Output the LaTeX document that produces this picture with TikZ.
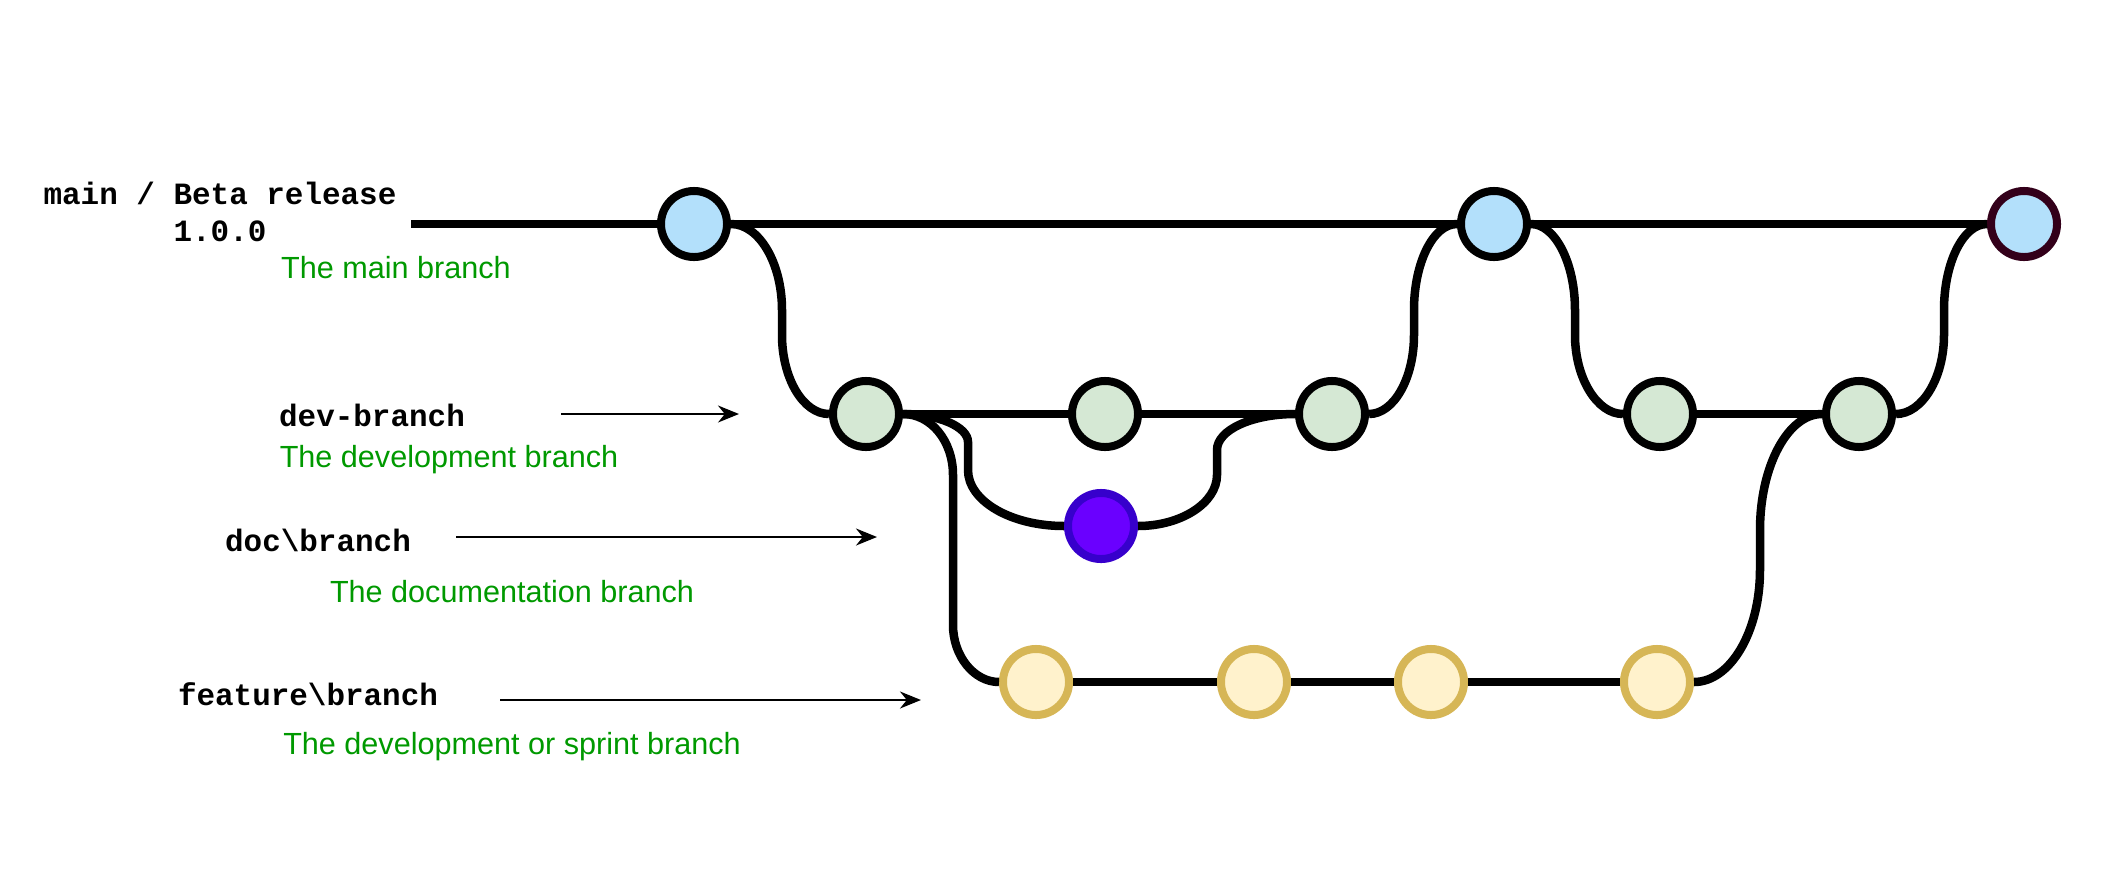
\documentclass[tikz,border=0pt]{standalone}
\usepackage{fontspec}
\setmainfont{Liberation Sans}
\newfontfamily\codefont{Liberation Mono}
\usetikzlibrary{arrows.meta}

\definecolor{mainfill}{HTML}{B3E0FB}
\definecolor{devfill}{HTML}{D5E8D4}
\definecolor{docfill}{HTML}{6A00FF}
\definecolor{docline}{HTML}{3700CC}
\definecolor{featfill}{HTML}{FFF2CC}
\definecolor{featline}{HTML}{D6B656}
\definecolor{tagline}{HTML}{33001A}
\definecolor{notegreen}{HTML}{009900}

\begin{document}
\begin{tikzpicture}[
            x=0.01cm, y=-0.01cm,
            >={Stealth[length=0.21cm, width=0.17cm]},
            commit/.style={circle, minimum size=0.66cm, inner sep=0pt, line width=0.08cm},
            maincommit/.style={commit, draw=black, fill=mainfill},
            devcommit/.style={commit, draw=black, fill=devfill},
            doccommit/.style={commit, draw=docline, fill=docfill},
            featcommit/.style={commit, draw=featline, fill=featfill},
            trunk/.style={line width=0.085cm},
            branchname/.style={font=\codefont\bfseries\fontsize{8.8}{10.5}\selectfont, align=center},
            notetext/.style={text=notegreen, font=\fontsize{8.7}{10.5}\selectfont},
            pointer/.style={->, line width=0.02cm}
        ]

            \useasboundingbox (0,0) rectangle (2126,881);

            % Labels on the left
            \node[branchname] (mainlbl) at (220,212) {main / Beta release\\1.0.0};
            \node[notetext] (mainnote) at (396,268) {The main branch};
            \node[branchname] (devlbl) at (372,415) {dev-branch};
            \node[notetext] (devnote) at (449,460) {The development branch};
            \node[branchname] (doclbl) at (318,540) {doc\textbackslash branch};
            \node[notetext] (docnote) at (512,592) {The documentation branch};
            \node[branchname] (featlbl) at (308,694) {feature\textbackslash branch};
            \node[notetext] (featnote) at (512,747) {The development or sprint branch};

            % Pointers
            \coordinate (devfrom) at (561,414);
            \coordinate (devto) at (739,414);
            \coordinate (docfrom) at (456,537);
            \coordinate (docto) at (877,537);
            \coordinate (featfrom) at (500,700);
            \coordinate (featto) at (921,700);
            \draw[pointer] (devfrom) -- (devto);
            \draw[pointer] (docfrom) -- (docto);
            \draw[pointer] (featfrom) -- (featto);

            % Commits
            \node[maincommit] (M1) at (694,224) {};
            \node[maincommit] (M2) at (1494,224) {};
            \node[maincommit, draw=tagline] (M3) at (2024,224) {};
            \node[devcommit] (D1) at (866,414) {};
            \node[devcommit] (D2) at (1105,414) {};
            \node[devcommit] (D3) at (1332,414) {};
            \node[devcommit] (D4) at (1660,414) {};
            \node[devcommit] (D5) at (1859,414) {};
            \node[doccommit] (Doc) at (1101,526) {};
            \node[featcommit] (F1) at (1036,682) {};
            \node[featcommit] (F2) at (1254,682) {};
            \node[featcommit] (F3) at (1431,682) {};
            \node[featcommit] (F4) at (1657,682) {};

            % Straight branch lines
            \coordinate (origin) at (411,224);
            \draw[trunk] (origin) -- (M1) -- (M2) -- (M3);
            \draw[trunk] (D1) -- (D2) -- (D3);
            \draw[trunk] (D4) -- (D5);
            \draw[trunk] (F1) -- (F2) -- (F3) -- (F4);

            % Branching and merging
            \draw[trunk] (M1.east) .. controls (759,224) and (782,263) .. (782,310)
                -- (782,335) .. controls (782,378) and (803,414) .. (D1.west);
            \draw[trunk] (D3.east) .. controls (1394,414) and (1414,378) .. (1414,335)
                -- (1414,310) .. controls (1414,263) and (1433,224) .. (M2.west);
            \draw[trunk] (M2.east) .. controls (1555,224) and (1575,263) .. (1575,310)
                -- (1575,335) .. controls (1575,378) and (1597,414) .. (D4.west);
            \draw[trunk] (D5.east) .. controls (1922,414) and (1944,378) .. (1944,335)
                -- (1944,310) .. controls (1944,263) and (1963,224) .. (M3.west);
            \draw[trunk] (D1.east) .. controls (939,414) and (968,427) .. (968,442)
                -- (968,470) .. controls (968,501) and (1011,526) .. (Doc.west);
            \draw[trunk] (Doc.east) .. controls (1181,526) and (1217,503) .. (1217,475)
                -- (1217,450) .. controls (1217,430) and (1252,414) .. (D3.west);
            \draw[trunk] (D1.east) .. controls (931,414) and (953,441) .. (953,475)
                -- (953,625) .. controls (953,656) and (974,682) .. (F1.west);
            \draw[trunk] (F4.east) .. controls (1730,682) and (1760,632) .. (1760,570)
                -- (1760,530) .. controls (1760,466) and (1788,414) .. (D5.west);

        \end{tikzpicture}
\end{document}
